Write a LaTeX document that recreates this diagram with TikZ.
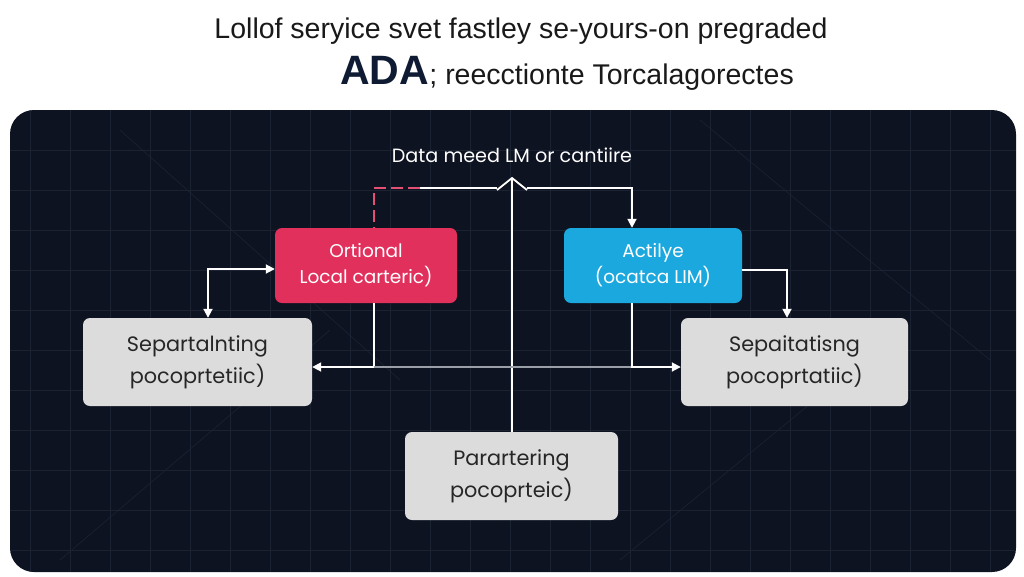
\documentclass[tikz,border=0pt]{standalone}
\usepackage{fontspec}
\setmainfont{Liberation Sans}
\newfontfamily\boxfont{Poppins}
\usetikzlibrary{arrows.meta}
\definecolor{panel}{HTML}{0E1321}
\definecolor{gridc}{HTML}{1B2232}
\definecolor{pinkc}{HTML}{E2305C}
\definecolor{bluec}{HTML}{1BA8DE}
\definecolor{grayc}{HTML}{DCDCDC}
\definecolor{navy}{HTML}{0F1B33}
\definecolor{midline}{HTML}{9A9FA8}
\begin{document}
\begin{tikzpicture}[x=1pt,y=-1pt,
  wire/.style={draw=white, line width=1.8pt},
  arr/.style={-{Triangle[width=9pt,length=9pt]}},
  darr/.style={{Triangle[width=9pt,length=9pt]}-{Triangle[width=9pt,length=9pt]}},
  colbox/.style={rounded corners=7pt, text=white, align=center, font=\boxfont\fontsize{18.5}{26}\selectfont, inner sep=0pt},
  graybox/.style={rounded corners=7pt, fill=grayc, text=black!85, align=center, font=\boxfont\fontsize{20.8}{32}\selectfont, inner sep=0pt}
]
\useasboundingbox (0,0) rectangle (1024,576);
\fill[white] (0,0) rectangle (1024,576);
% title
\node[font=\fontsize{28.5}{32}\selectfont, text=black!90] (t1) at (521,31) {Lollof seryice svet fastley se-yours-on pregraded};
\node[font=\fontsize{41}{46}\selectfont\bfseries, text=navy, anchor=base west, inner sep=0pt] (ada) at (340,84) {ADA};
\node[font=\fontsize{28.5}{32}\selectfont, text=black!90, anchor=base west, inner sep=0pt] (t2) at (ada.base east) {; reecctionte Torcalagorectes};
% panel
\fill[panel, rounded corners=24pt] (10,110) rectangle (1016,572);
\begin{scope}
\clip[rounded corners=24pt] (10,110) rectangle (1016,572);
\foreach \x in {30,70,...,1010} \draw[gridc, line width=0.6pt] (\x,110) -- (\x,572);
\foreach \y in {150,190,...,570} \draw[gridc, line width=0.6pt] (10,\y) -- (1016,\y);
\draw[gridc, line width=0.6pt] (60,560) -- (330,330) (700,120) -- (990,360) (120,130) -- (400,380) (620,560) -- (900,330);
\end{scope}
% heading
\node[font=\boxfont\fontsize{19.2}{22}\selectfont, text=white] (head) at (512,155) {Data meed LM or cantiire};
% boxes
\node[colbox, fill=pinkc, minimum width=182pt, minimum height=75pt] (pink) at (366,265.5) {Ortional\\Local carteric)};
\node[colbox, fill=bluec, minimum width=178pt, minimum height=75pt] (blue) at (653,265.5) {Actilye\\(ocatca LIM)};
\node[graybox, minimum width=229pt, minimum height=88pt] (lg) at (197.5,362) {Separtalnting\\pocoprtetiic)};
\node[graybox, minimum width=227pt, minimum height=88pt] (rg) at (794.5,362) {Sepaitatisng\\pocoprtatiic)};
\node[graybox, minimum width=213pt, minimum height=88pt] (bg) at (511.5,476) {Parartering\\pocoprteic)};
% coordinates
\coordinate (apex) at (512,178);
\coordinate (cl) at (497,190);
\coordinate (cr) at (527,190);
\coordinate (hl) at (420,188);
\coordinate (pl) at (374,188);
\coordinate (tr) at (632,188);
\coordinate (lk) at (208,269);
\coordinate (pb) at (374,367);
\coordinate (bb) at (632,367);
\coordinate (rk) at (787,270);
% connectors
\draw[wire, line join=miter] (cl) -- (apex) -- (cr);
\draw[wire] (apex) -- (bg.north -| apex);
\draw[wire] (cl |- hl) -- (hl);
\draw[draw=pinkc!85!white, line width=1.8pt, dashed, dash pattern=on 12pt off 5pt] (hl) -- (pl) -- (pink.north -| pl);
\draw[wire, arr] (cr |- tr) -- (tr) -- (blue.north -| tr);
\draw[wire, darr] (lg.north -| lk) -- (lk) -- (pink.west |- lk);
\draw[wire, arr] (pink.south -| pb) -- (pb) -- (lg.east |- pb);
\draw[draw=midline, line width=1.2pt] (pb) -- (bb);
\draw[wire, arr] (blue.south -| bb) -- (bb) -- (rg.west |- bb);
\draw[wire, arr] (blue.east |- rk) -- (rk) -- (rg.north -| rk);
\end{tikzpicture}
\end{document}
